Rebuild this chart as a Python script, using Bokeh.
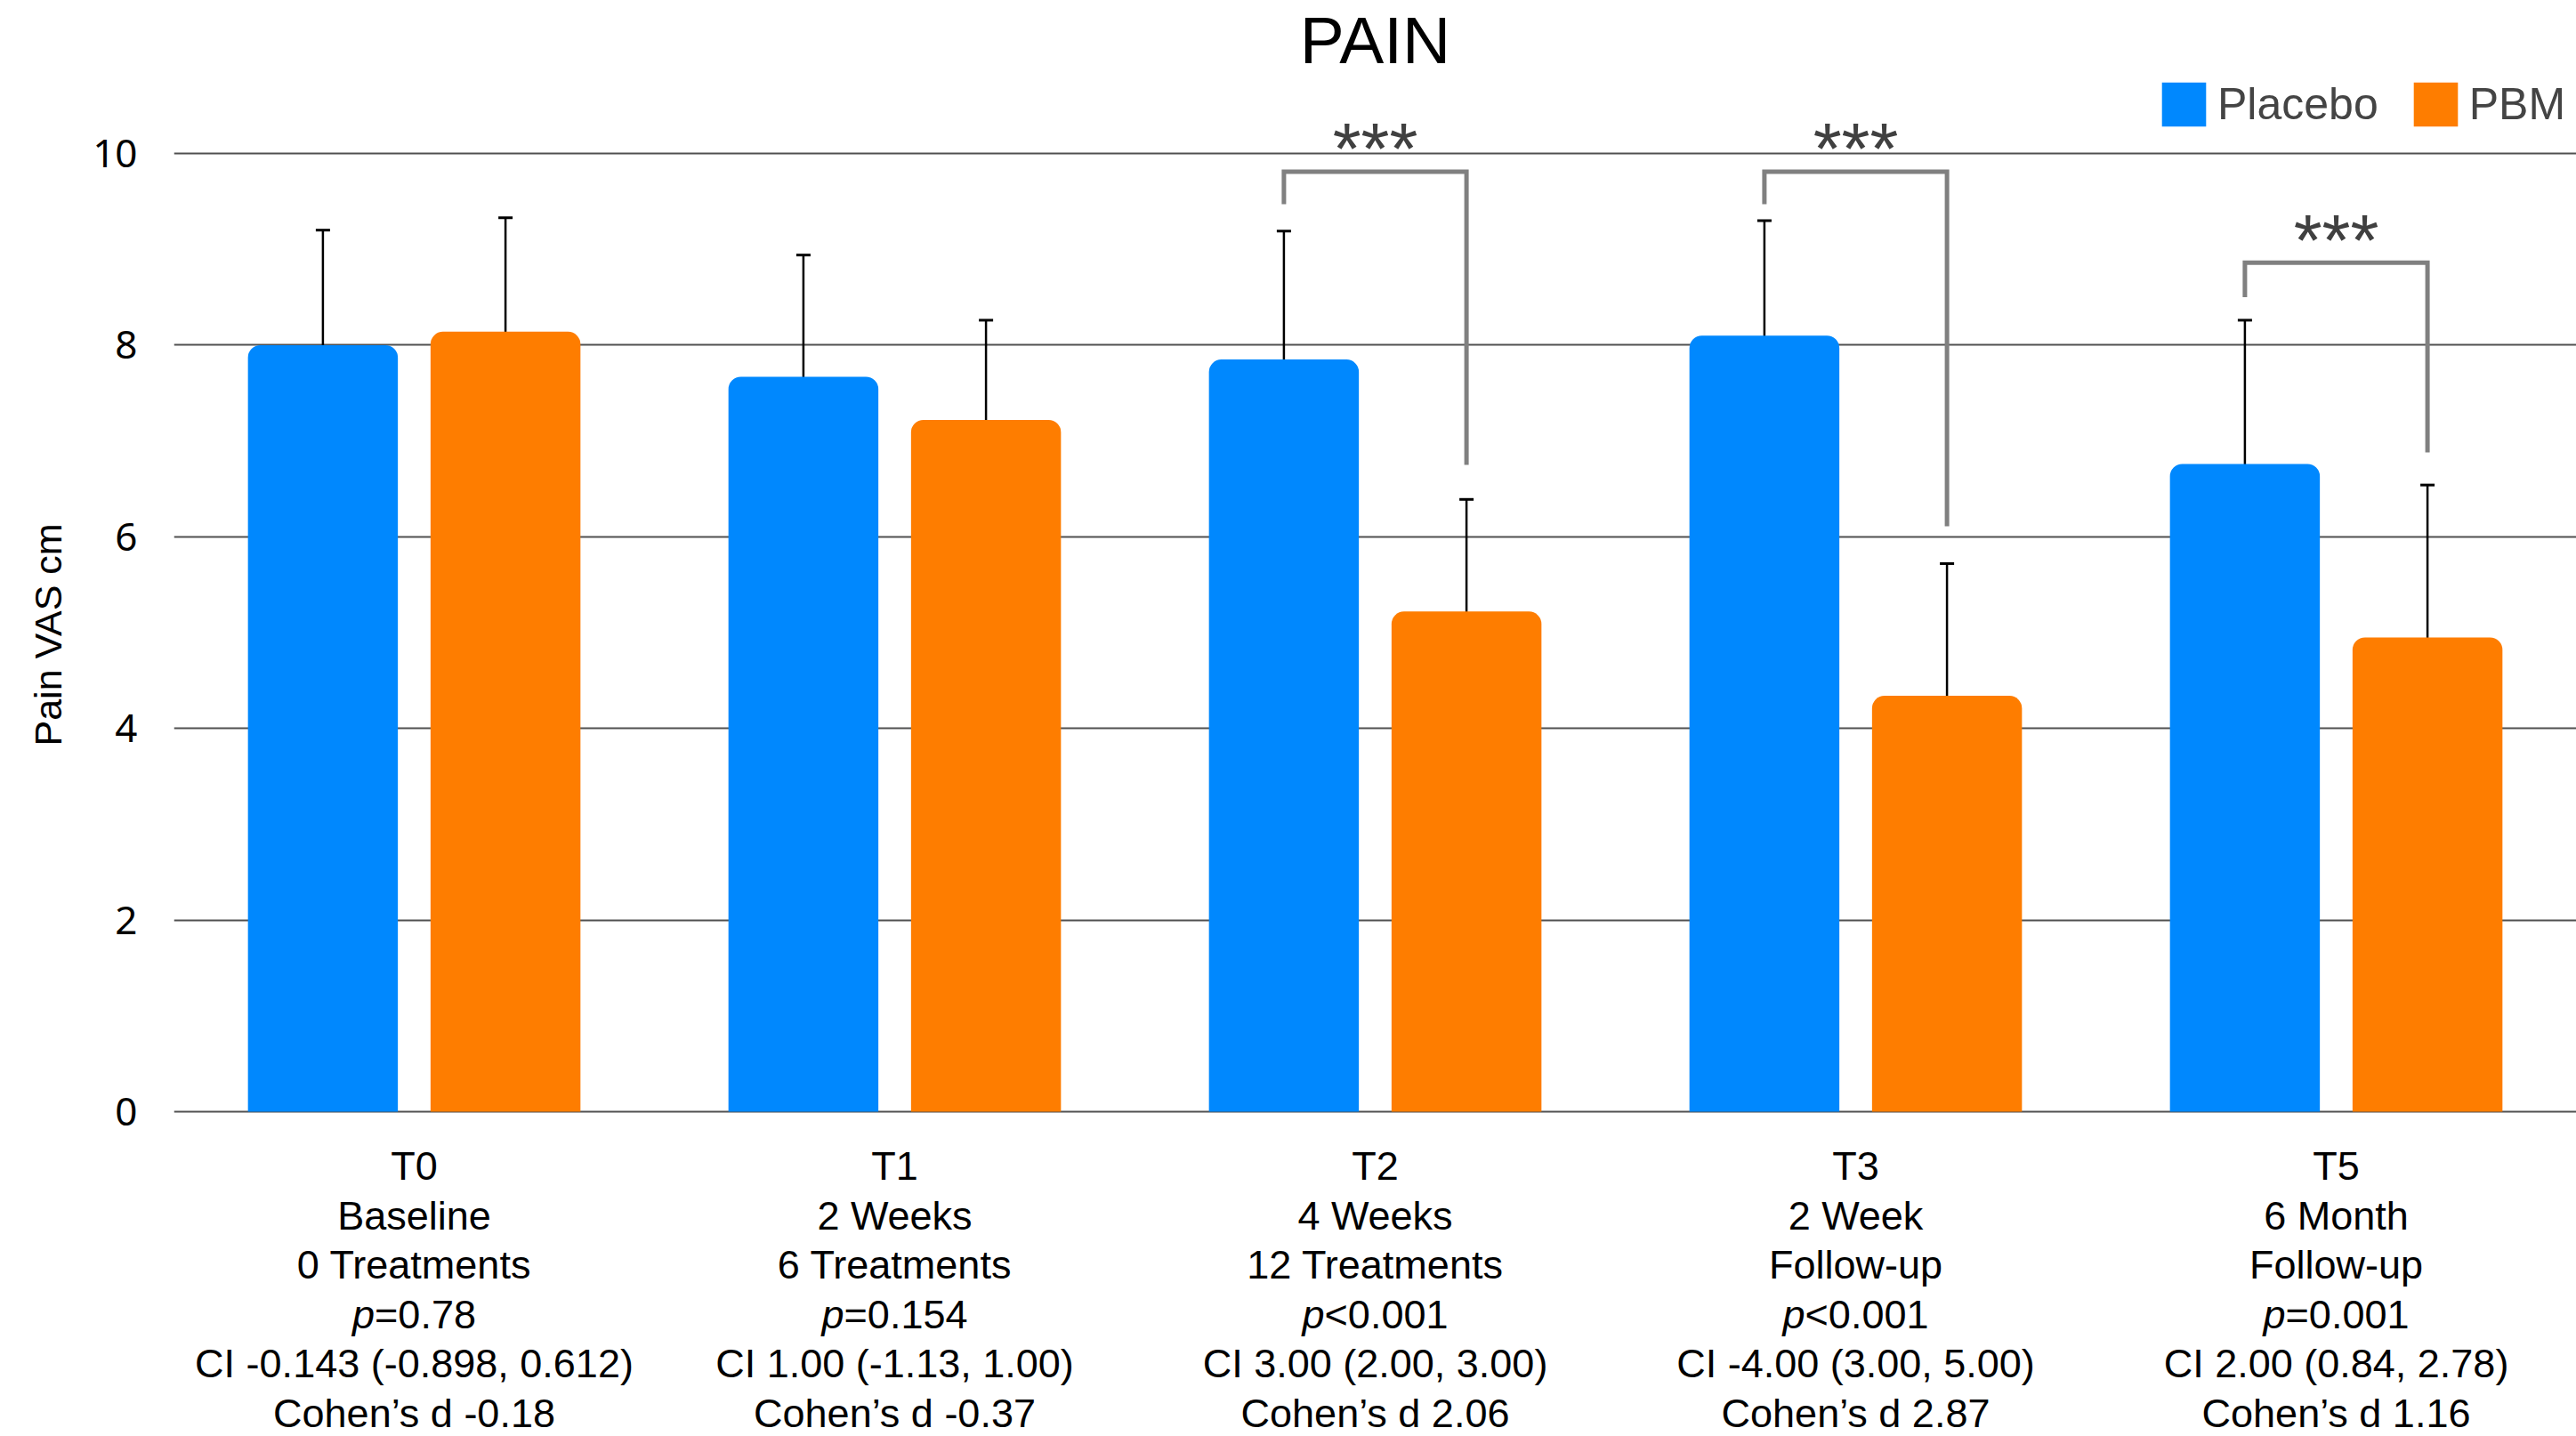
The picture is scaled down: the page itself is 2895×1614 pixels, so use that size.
from bokeh.plotting import figure
from bokeh.layouts import column
from bokeh.models import ColumnDataSource, FactorRange, Range1d, FixedTicker, Whisker, TeeHead, Title
from bokeh.transform import dodge
from bokeh.core.properties import value
from bokeh.embed import file_html
from bokeh.resources import INLINE

# ---------------- data ----------------
categories = ["T0", "T1", "T2", "T3", "T5"]
period = ["Baseline", "2 Weeks", "4 Weeks", "2 Week", "6 Month"]
detail = ["0 Treatments", "6 Treatments", "12 Treatments", "Follow-up", "Follow-up"]
p_values = ["=0.78", "=0.154", "<0.001", "<0.001", "=0.001"]
ci_text = ["CI -0.143 (-0.898, 0.612)", "CI 1.00 (-1.13, 1.00)", "CI 3.00 (2.00, 3.00)",
           "CI -4.00 (3.00, 5.00)", "CI 2.00 (0.84, 2.78)"]
cohen_text = ["Cohen\u2019s d -0.18", "Cohen\u2019s d -0.37", "Cohen\u2019s d 2.06",
              "Cohen\u2019s d 2.87", "Cohen\u2019s d 1.16"]

placebo_mean = [8.00, 7.67, 7.85, 8.10, 6.76]
placebo_err = [1.20, 1.27, 1.34, 1.20, 1.50]
pbm_mean = [8.14, 7.22, 5.22, 4.34, 4.95]
pbm_err = [1.19, 1.04, 1.17, 1.38, 1.59]

sig_categories = ["T2", "T3", "T5"]
sig_labels = ["***", "***", "***"]
sig_top = [9.81, 9.81, 8.86]
sig_left_end = [9.47, 9.47, 8.50]
sig_right_end = [6.75, 6.11, 6.88]

y_ticks = [0, 2, 4, 6, 8, 10]

# ---------------- styles / layout ----------------
BLUE = "#0088FE"
ORANGE = "#FE7D00"
FONT = "Liberation Sans"
OFF = 0.19
BAR_W = 0.312
LEFT = 195
W = 2895
TOP_PANEL = 86          # height taken by the title panel
FRAME_BOTTOM = 1252     # canvas y of the frame bottom
BOTTOM_PAD = 26
HA = FRAME_BOTTOM + BOTTOM_PAD
HB = 1614 - HA
PX_PER_UNIT = 107.7
Y_TOP_GRID = 172        # canvas y of the "10" gridline

src = ColumnDataSource(dict(
    cat=categories,
    placebo=placebo_mean,
    pbm=pbm_mean,
    placebo_lo=[m - e for m, e in zip(placebo_mean, placebo_err)],
    placebo_hi=[m + e for m, e in zip(placebo_mean, placebo_err)],
    pbm_lo=[m - e for m, e in zip(pbm_mean, pbm_err)],
    pbm_hi=[m + e for m, e in zip(pbm_mean, pbm_err)],
))

x_range = FactorRange(factors=categories)
y_end = 10 + (Y_TOP_GRID - TOP_PANEL) / PX_PER_UNIT
y_start = -3 / PX_PER_UNIT

pA = figure(x_range=x_range, y_range=Range1d(y_start, y_end), width=W, height=HA,
            output_backend="svg", toolbar_location=None, x_axis_location=None,
            min_border_left=LEFT, min_border_right=0, min_border_top=0,
            min_border_bottom=BOTTOM_PAD, outline_line_color=None)

pA.title.text = "PAIN"
pA.title.align = "center"
pA.title.text_font = FONT
pA.title.text_font_size = "75px"
pA.title.text_font_style = "normal"
pA.title.text_color = "black"
pA.title.standoff = 0

ticker = FixedTicker(ticks=y_ticks)
ya = pA.yaxis[0]
ya.ticker = ticker
pA.ygrid.ticker = ticker
ya.major_label_text_font = "Noto Sans"
ya.major_label_text_font_size = "44px"
ya.major_label_text_color = "black"
ya.axis_line_color = None
ya.major_tick_line_color = None
ya.minor_tick_line_color = None
ya.major_tick_in = 0
ya.major_tick_out = 0
ya.major_label_standoff = 41

# y-axis title, centred on the 0-10 value span
frame_h = FRAME_BOTTOM - TOP_PANEL
ylab = Title(text="Pain VAS cm", align="left", vertical_align="middle",
             offset=414, standoff=46, text_font=FONT, text_font_size="43px",
             text_font_style="normal", text_color="black")
pA.add_layout(ylab, "left")

pA.xgrid.visible = False
pA.ygrid.grid_line_color = "#505050"
pA.ygrid.grid_line_width = 2

pA.vbar(x=dodge("cat", -OFF, range=x_range), top="placebo", width=BAR_W, source=src,
        fill_color=BLUE, line_color=None, border_radius=(14, 14, 0, 0), legend_label="Placebo")
pA.vbar(x=dodge("cat", OFF, range=x_range), top="pbm", width=BAR_W, source=src,
        fill_color=ORANGE, line_color=None, border_radius=(14, 14, 0, 0), legend_label="PBM")

for key, off in (("placebo", -OFF), ("pbm", OFF)):
    pA.add_layout(Whisker(base=dodge("cat", off, range=x_range), upper=f"{key}_hi", lower=f"{key}_lo",
                          source=src, line_color="black", line_width=2.5,
                          upper_head=TeeHead(size=16, line_width=3, line_color="black"),
                          lower_head=TeeHead(size=16, line_width=3, line_color="black")))

# significance brackets
centers = [categories.index(c) + 0.5 for c in sig_categories]
bx = [[c - OFF, c - OFF, c + OFF, c + OFF] for c in centers]
by = [[l, t, t, r] for l, t, r in zip(sig_left_end, sig_top, sig_right_end)]
pA.multi_line(bx, by, line_color="#808080", line_width=5, line_join="miter")
pA.text(x=sig_categories, y=sig_top, text=sig_labels, text_font=value(FONT),
        text_font_size="82px", text_color="#404040", text_align="center",
        text_baseline="alphabetic", y_offset=-26)

leg = pA.legend[0]
leg.orientation = "horizontal"
leg.glyph_width = 62
leg.glyph_height = 62
leg.label_text_font = FONT
leg.label_text_font_size = "50px"
leg.label_standoff = 7
leg.spacing = 33
leg.padding = 0
leg.margin = 0
leg.location = (2228, frame_h - 62)
leg.border_line_color = None
leg.background_fill_alpha = 0

# ---------------- category labels (second figure) ----------------
ROW0 = 1310 - HA
ROWH = 55.6
pB = figure(x_range=x_range, y_range=Range1d((HB - ROW0) / ROWH, -ROW0 / ROWH), width=W, height=HB,
            output_backend="svg", toolbar_location=None, x_axis_location=None, y_axis_location=None,
            min_border_left=LEFT, min_border_right=0, min_border_top=0, min_border_bottom=0,
            outline_line_color=None)
pB.grid.visible = False

rows = {0: categories, 1: period, 2: detail, 4: ci_text, 5: cohen_text}
for r, texts in rows.items():
    pB.text(x=categories, y=[r] * len(categories), text=texts, text_font=value(FONT),
            text_font_size="45px", text_color="black", text_align="center", text_baseline="middle")

# p-value row: italic "p" + regular rest, centred together
FS = 45
adv = {"=": 0.584, "<": 0.584, ".": 0.278}
def width(s):
    return sum(adv.get(ch, 0.556) for ch in s) * FS
wp = 0.556 * FS
shift = [(wp - width(s)) / 2 for s in p_values]
pB.text(x=categories, y=[3] * 5, text=["p"] * 5, x_offset=shift, text_font=value(FONT),
        text_font_size="45px", text_font_style="italic", text_color="black",
        text_align="right", text_baseline="middle")
pB.text(x=categories, y=[3] * 5, text=p_values, x_offset=shift, text_font=value(FONT),
        text_font_size="45px", text_color="black", text_align="left", text_baseline="middle")

layout = column(pA, pB)
open("out.html", "w").write(file_html(layout, INLINE))
